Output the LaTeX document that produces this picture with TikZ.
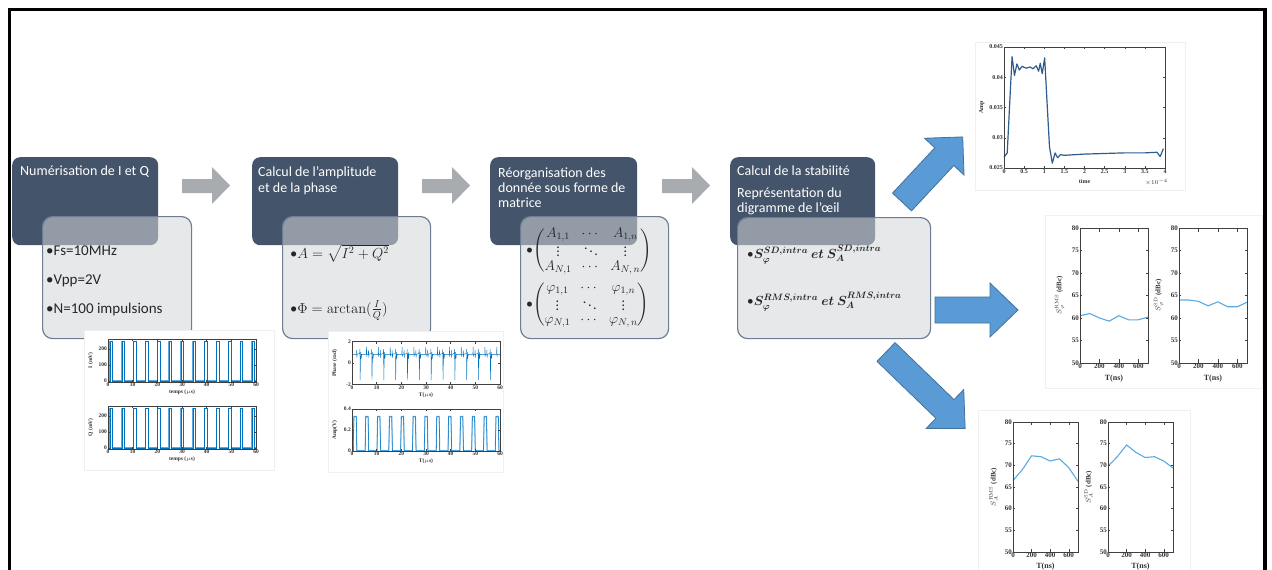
\RequirePackage{fix-cm}
\documentclass[tikz,border=0pt]{standalone}
\usepackage{amsmath}
\usepackage[no-math]{fontspec}
\setmainfont{Carlito}
\newfontfamily\plotfont{Liberation Serif}
\definecolor{darkslate}{RGB}{68,84,106}
\definecolor{lightfill}{RGB}{212,214,218}
\definecolor{lightedge}{RGB}{110,125,145}
\definecolor{grayarrowc}{RGB}{168,171,176}
\definecolor{bluefill}{RGB}{91,155,213}
\definecolor{blueedge}{RGB}{65,113,156}
\definecolor{matblue}{RGB}{0,114,189}
\definecolor{matlight}{RGB}{90,170,225}
\definecolor{curveblue}{RGB}{47,92,143}
\newcommand\dbcplot[6]{%
\begin{scope}[shift={(#1,#2)},x=#3pt,y=#4pt]
 \draw[pl2] plot coordinates {#6};
 \draw[axline] (0,0) rectangle (7,30);
 \foreach \xv/\xl in {0/0,2/200,4/400,6/600}{\draw[axline] (\xv,0) -- ++(0,0.8) (\xv,30) -- ++(0,-0.8); \node[ticklabB,below] at (\xv,0) {\xl};}
 \foreach \yv in {0,5,...,30}{\pgfmathtruncatemacro\yl{\yv+50}\draw[axline] (0,\yv) -- ++(0.2,0) (7,\yv) -- ++(-0.2,0); \node[ticklabB,left] at (0,\yv) {\yl};}
 \node[ticklabB,rotate=90] at (-2.1,15) {#5};
 \node[xlab] at (3.5,-3.4) {T(ns)};
\end{scope}}
\begin{document}
\begin{tikzpicture}[x=1pt,y=-1pt,
 darkbox/.style={fill=darkslate,rounded corners=8pt,draw=none,inner sep=0pt,anchor=north west},
 lightbox/.style={fill=lightfill,fill opacity=0.55,draw=lightedge,draw opacity=1,line width=1.2pt,rounded corners=10pt,inner sep=0pt,anchor=north west},
 titletxt/.style={text=white,font=\fontsize{14}{16}\selectfont,anchor=base west,inner sep=0pt},
 bullettxt/.style={text=black!85,font=\fontsize{15}{17}\selectfont,anchor=base west,inner sep=0pt},
 grayarr/.style={fill=grayarrowc},
 bluearr/.style={fill=bluefill,draw=blueedge,line width=0.8pt},
 panel/.style={fill=white,draw=black!6,line width=0.5pt},
 axline/.style={draw=black!75,line width=0.4pt},
 ticklab/.style={font=\plotfont\bfseries\fontsize{5.5}{6.5}\selectfont,inner sep=1pt,text=black!80},
 ticklabT/.style={font=\plotfont\bfseries\fontsize{6}{7}\selectfont,inner sep=1pt,text=black!80},
 ticklabB/.style={font=\plotfont\bfseries\fontsize{7}{8}\selectfont,inner sep=1pt,text=black!80},
 xlab/.style={font=\plotfont\bfseries\fontsize{8}{9}\selectfont,inner sep=0pt,text=black!80},
 pl1/.style={draw=matblue,line width=0.4pt},
 pl2/.style={draw=matlight,line width=1.1pt},
 pl3/.style={draw=curveblue,line width=1.2pt,line join=round}]
\useasboundingbox (0,0) rectangle (1272,570);
\clip (0,0) rectangle (1272,570);
\fill[white] (0,0) rectangle (1272,570);
\draw[line width=3.5pt] (9.5,590) -- (9.5,9.5) -- (1265,9.5) -- (1265,590);

% ---- process boxes
\node[darkbox,minimum width=146pt,minimum height=88pt] (d1) at (12,157) {};
\node[darkbox,minimum width=146pt,minimum height=88pt] (d2) at (252,157) {};
\node[darkbox,minimum width=147pt,minimum height=88pt] (d3) at (490,157) {};
\node[darkbox,minimum width=145pt,minimum height=88pt] (d4) at (730,157) {};
\node[lightbox,minimum width=149pt,minimum height=122pt] (l1) at (42,216) {};
\node[lightbox,minimum width=148pt,minimum height=122pt] (l2) at (282,216) {};
\node[lightbox,minimum width=148pt,minimum height=122pt] (l3) at (520,216) {};
\node[lightbox,minimum width=193pt,minimum height=121pt] (l4) at (737,217) {};

\node[titletxt] (t1) at (20,175) {Numérisation de I et Q};
\node[titletxt] (t2a) at (258,176) {Calcul de l’amplitude};
\node[titletxt] (t2b) at (258,192) {et de la phase};
\node[titletxt] (t3a) at (498,177) {Réorganisation des};
\node[titletxt] (t3b) at (498,192) {donnée sous forme de};
\node[titletxt] (t3c) at (498,207) {matrice};
\node[titletxt] (t4a) at (737,175) {Calcul de la stabilité};
\node[titletxt] (t4b) at (737,197) {Représentation du};
\node[titletxt] (t4c) at (737,212) {digramme de l’œil};

\node[bullettxt] (b1a) at (46,255) {•Fs=10MHz};
\node[bullettxt] (b1b) at (46,284) {•Vpp=2V};
\node[bullettxt] (b1c) at (46,313) {•N=100 impulsions};
\node[bullettxt,font=\fontsize{14.5}{17}\selectfont] (b2a) at (290,258) {•$A=\sqrt{I^2+Q^2}$};
\node[bullettxt,font=\fontsize{14.5}{17}\selectfont] (b2b) at (290,313) {•$\Phi=\arctan(\frac{I}{Q})$};
\node[bullettxt,anchor=west,font=\fontsize{14}{16}\selectfont] (m1) at (526,251) {•$\renewcommand\arraystretch{0.8}\setlength\arraycolsep{5pt}\begin{pmatrix} A_{1,1} & \cdots & A_{1,n}\\ \vdots & \ddots & \vdots\\ A_{N,1} & \cdots & A_{N,\,n}\end{pmatrix}$};
\node[bullettxt,anchor=west,font=\fontsize{14}{16}\selectfont] (m2) at (526,305) {•$\renewcommand\arraystretch{0.8}\setlength\arraycolsep{5pt}\begin{pmatrix} \varphi_{1,1} & \cdots & \varphi_{1,n}\\ \vdots & \ddots & \vdots\\ \varphi_{N,1} & \cdots & \varphi_{N,\,n}\end{pmatrix}$};
\node[bullettxt,font=\fontsize{13.2}{15}\selectfont] (s1) at (747,258) {•{\boldmath$S_{\varphi}^{SD,intra}\ et\ S_{A}^{SD,intra}$}};
\node[bullettxt,font=\fontsize{13.2}{15}\selectfont] (s2) at (747,305) {•{\boldmath$S_{\varphi}^{RMS,intra}\ et\ S_{A}^{RMS,intra}$}};

% ---- gray arrows
\foreach \ax in {182,422,662}{
 \fill[grayarr] (\ax,179) -- (\ax+30,179) -- (\ax+30,167) -- (\ax+48,185.5) -- (\ax+30,204) -- (\ax+30,193) -- (\ax,193) -- cycle;}

% ---- blue arrows
\begin{scope}[shift={(902,202)},rotate=47]
 \filldraw[bluearr] (0,-13) -- (62,-13) -- (62,-27) -- (89,0) -- (62,27) -- (62,13) -- (0,13) -- cycle;
\end{scope}
\begin{scope}[shift={(935,310)}]
 \filldraw[bluearr] (0,-13) -- (55,-13) -- (55,-27) -- (83,0) -- (55,27) -- (55,13) -- (0,13) -- cycle;
\end{scope}
\begin{scope}[shift={(886,352)},rotate=-44]
 \filldraw[bluearr] (0,-13) -- (82,-13) -- (82,-27) -- (110,0) -- (82,27) -- (82,13) -- (0,13) -- cycle;
\end{scope}

% ---- panel 1 : I and Q
\fill[panel] (84,330) rectangle (274,470);
\foreach \oy/\lab in {381/I (mV),448/Q (mV)}{
\begin{scope}[shift={(108,\oy)},x=2.4667pt,y=0.1593pt]
 \draw[matlight,line width=0.9pt] (0,2)\foreach\k in {0,...,12}{ -- ({0.7+4.8*\k},2) -- ({0.7+4.8*\k},250) -- ({1.9+4.8*\k},250) -- ({1.9+4.8*\k},2)} -- (60,2);
 \draw[pl1] (0,0)\foreach\k in {0,...,12}{ -- ({0.8+4.8*\k},0) -- ({0.8+4.8*\k},248) -- ({1.8+4.8*\k},248) -- ({1.8+4.8*\k},0)} -- (60,0);
 \draw[axline] (0,-6) rectangle (60,263);
 \foreach \xv in {0,10,...,60}{\draw[axline] (\xv,-6) -- ++(0,10) (\xv,263) -- ++(0,-10); \node[ticklab,below] at (\xv,-6) {\xv};}
 \foreach \yv in {0,100,200}{\draw[axline] (0,\yv) -- ++(0.8,0) (60,\yv) -- ++(-0.8,0); \node[ticklab,left] at (0,\yv) {\yv};}
 \node[ticklab,rotate=90] at (-7,130) {\lab};
 \node[ticklab,anchor=north] at (30,-50) {temps ($\mu$s)};
\end{scope}}

% ---- panel 2 : phase and amplitude
\fill[panel] (328,331) rectangle (503,472);
\begin{scope}[shift={(352,363)},x=2.4667pt,y=10.75pt]
 \draw[pl1] (0,0.8) \foreach \k in {0,...,11}{ -- ({1.8+4.8*\k},0.8) -- ({1.9+4.8*\k},1.2) -- ({2.0+4.8*\k},0.5) -- ({2.1+4.8*\k},0.8) -- ({3.1+4.8*\k},0.9) -- ({3.2+4.8*\k},1.3) -- ({3.3+4.8*\k},-1.6) -- ({3.45+4.8*\k},0.3) -- ({3.6+4.8*\k},1.0) -- ({3.75+4.8*\k},0.4) -- ({3.9+4.8*\k},0.8) -- ({5.8+4.8*\k},0.8) -- ({5.9+4.8*\k},1.5) -- ({6.0+4.8*\k},0.6) -- ({6.1+4.8*\k},0.8)} -- (60,0.8);
 \draw[axline] (0,-2) rectangle (60,2);
 \foreach \xv in {0,10,...,60}{\draw[axline] (\xv,-2) -- ++(0,0.2) (\xv,2) -- ++(0,-0.2); \node[ticklab,below] at (\xv,-2) {\xv};}
 \foreach \yv in {-2,0,2}{\draw[axline] (0,\yv) -- ++(0.8,0) (60,\yv) -- ++(-0.8,0); \node[ticklab,left] at (0,\yv) {\yv};}
 \node[ticklab,rotate=90] at (-7,0) {Phase (rad)};
 \node[ticklab,anchor=north] at (30,-2.65) {T($\mu$s)};
\end{scope}
\begin{scope}[shift={(352,451)},x=2.4667pt,y=105pt]
 \draw[matlight,line width=0.9pt] (0,0.003) \foreach \k in {0,...,12}{ -- ({0.5+4.8*\k},0.003) -- ({0.75+4.8*\k},0.33) -- ({1.75+4.8*\k},0.33) -- ({2.0+4.8*\k},0.003)} -- (60,0.003);
 \draw[pl1] (0,0) \foreach \k in {0,...,12}{ -- ({0.55+4.8*\k},0) -- ({0.8+4.8*\k},0.325) -- ({1.7+4.8*\k},0.325) -- ({1.95+4.8*\k},0)} -- (60,0);
 \draw[axline] (0,0) rectangle (60,0.4);
 \foreach \xv in {0,10,...,60}{\draw[axline] (\xv,0) -- ++(0,0.02) (\xv,0.4) -- ++(0,-0.02); \node[ticklab,below] at (\xv,0) {\xv};}
 \foreach \yv in {0,0.2,0.4}{\draw[axline] (0,\yv) -- ++(0.8,0) (60,\yv) -- ++(-0.8,0); \node[ticklab,left] at (0,\yv) {\yv};}
 \node[ticklab,rotate=90] at (-7,0.2) {Amp(V)};
 \node[ticklab,anchor=north] at (30,-0.062) {T($\mu$s)};
\end{scope}

% ---- panel 3 : time response
\fill[panel] (975,42) rectangle (1185,190);
\begin{scope}[shift={(1004,168)},x=40.25pt,y=6.05pt]
 \draw[pl3] plot coordinates {(0,1.8) (0.08,2.5) (0.2,18.4) (0.26,15.3) (0.32,17.2) (0.38,16.2) (0.45,16.8) (0.55,16.5) (0.65,16.7) (0.72,16.4) (0.8,16.9) (0.86,16.0) (0.9,17.3) (0.95,15.6) (1.01,18.2) (1.06,12) (1.13,3.5) (1.2,0.8) (1.27,2.5) (1.33,1.7) (1.4,2.2) (1.5,2.1) (2,2.3) (2.5,2.4) (3,2.5) (3.5,2.5) (3.8,2.6) (3.88,1.9) (3.96,3.2)};
 \draw[axline] (0,0) rectangle (4,20);
 \foreach \xv in {0,0.5,1,1.5,2,2.5,3,3.5,4}{\draw[axline] (\xv,0) -- ++(0,0.4) (\xv,20) -- ++(0,-0.4); \node[ticklabT,below] at (\xv,0) {\xv};}
 \foreach \yv/\yl in {0/0.025,5/0.03,10/0.035,15/0.04,20/0.045}{\draw[axline] (0,\yv) -- ++(0.05,0) (4,\yv) -- ++(-0.05,0); \node[ticklabT,left] at (0,\yv) {\yl};}
 \node[ticklabT,rotate=90] at (-0.55,10) {Amp};
 \node[ticklabT,anchor=north] at (2,-1.7) {time};
 \node[ticklabT,anchor=north east] at (4.1,-1.6) {$\times10^{-4}$};
\end{scope}

% ---- panel 4 and 5 : stability
\fill[panel] (1045,215) rectangle (1262,388);
\dbcplot{1080}{363}{9.714}{4.5}{$S_{\varphi}^{\mathrm{RMS}}$ (dBc)}{(0,10.5)(1,11)(2,10)(3,9.3)(4,10.5)(5,9.6)(6,9.6)(7,10.2)}
\dbcplot{1179}{363}{9.714}{4.5}{$S_{\varphi}^{\mathrm{SD}}$ (dBc)}{(0,14)(1,14)(2,13.7)(3,12.7)(4,13.6)(5,12.5)(6,12.5)(7,13.5)}
\fill[panel] (978,410) rectangle (1190,580);
\dbcplot{1013}{552}{9.286}{4.333}{$S_{A}^{\mathrm{RMS}}$ (dBc)}{(0,16.5)(1,19)(2,22.2)(3,22)(4,21)(5,21.5)(6,19.5)(7,16.3)}
\dbcplot{1108}{552}{9.286}{4.333}{$S_{A}^{\mathrm{SD}}$ (dBc)}{(0,19.8)(1,22)(2,24.7)(3,23)(4,21.8)(5,22)(6,21)(7,19.4)}
\end{tikzpicture}
\end{document}
